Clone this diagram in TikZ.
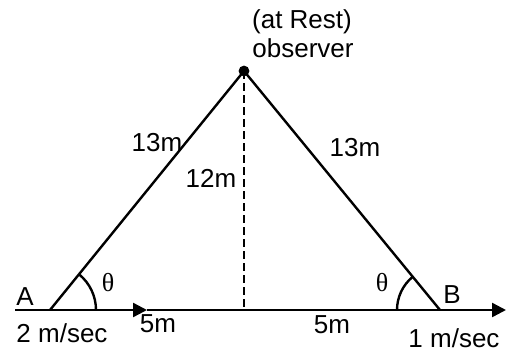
\documentclass[tikz,border=0pt]{standalone}
\usepackage{fontspec}
\setmainfont{Liberation Sans}
\newfontfamily\greekfont{Liberation Serif}
\usetikzlibrary{arrows.meta, angles, positioning}

\begin{document}
\begin{tikzpicture}[x=0.5pt, y=0.5pt,
    line/.style={line width=1.2pt},
    arrow/.style={line width=1.2pt, -{Triangle[length=7pt, width=7pt]}},
    dashline/.style={line width=1.2pt, dash pattern=on 4pt off 2pt},
    txt/.style={font=\fontsize{13}{15}\selectfont, inner sep=0pt},
    ang/.style={draw, line width=1.2pt}]
    
    \useasboundingbox (0,0) rectangle (507,354);
    
    \coordinate (A) at (50,44);
    \coordinate (B) at (440,44);
    \coordinate (O) at (244,283);
    \coordinate (F) at (244,44);
    \coordinate (S) at (15,44);
    \coordinate (M) at (147,44);
    \coordinate (E) at (506,44);
    
    % ground line with the two velocity arrows
    \draw[arrow] (S) -- (M);
    \draw[arrow] (M) -- (E);
    
    \draw[line] (A) -- (O) -- (B);
    \draw[dashline] (O) -- (F);
    \fill (O) circle (2.7pt);
    
    \pic[ang, angle radius=23pt] {angle=F--A--O};
    \pic[ang, angle radius=21.5pt] {angle=O--B--F};
    
    \node[txt] (thA) at (108,71) {\greekfont θ};
    \node[txt] (thB) at (382,71) {\greekfont θ};
    
    \node[txt] (labA) at (25,57) {A};
    \node[txt] (labB) at (452,59) {B};
    \node[txt] (vA) at (62,21) {2 m/sec};
    \node[txt] (vB) at (454,16) {1 m/sec};
    \node[txt] (dA) at (158,30) {5m};
    \node[txt] (dB) at (332,29) {5m};
    \node[txt] (sA) at (157,211) {13m};
    \node[txt] (sB) at (355,206) {13m};
    \node[txt] (h) at (211,176) {12m};
    \node[txt] (obs) at (303,306) {observer};
    \node[txt] (rest) at (302,332) {(at Rest)};
\end{tikzpicture}
\end{document}
